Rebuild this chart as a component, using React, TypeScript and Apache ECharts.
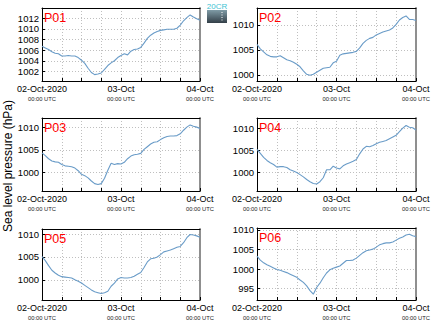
import React, { useEffect, useRef } from 'react';
import * as echarts from 'echarts';

const hours = [0, 1, 2, 3, 4, 5, 6, 7, 8, 9, 10, 11, 12, 13, 14, 15, 16, 17, 18, 19, 20, 21, 22, 23, 24, 25, 26, 27, 28, 29, 30, 31, 32, 33, 34, 35, 36, 37, 38, 39, 40, 41, 42, 43, 44, 45, 46, 47, 48];

const p01 = [1006.7, 1006.4, 1006.1, 1005.7, 1005.4, 1005.3, 1004.9, 1004.9, 1005.0, 1004.9, 1004.9, 1004.6, 1004.1, 1003.5, 1002.6, 1001.8, 1001.4, 1001.5, 1001.7, 1002.4, 1003.1, 1003.6, 1004.0, 1004.6, 1005.0, 1005.3, 1005.1, 1005.8, 1006.1, 1006.2, 1006.5, 1007.3, 1008.2, 1008.8, 1009.2, 1009.5, 1009.7, 1009.8, 1009.9, 1009.9, 1009.9, 1010.1, 1010.7, 1011.5, 1012.1, 1012.6, 1012.2, 1011.9, 1011.6];
const p02 = [1006.1, 1005.2, 1004.6, 1004.0, 1003.7, 1003.6, 1003.6, 1003.8, 1003.4, 1003.0, 1002.8, 1002.5, 1002.1, 1001.6, 1000.8, 1000.1, 999.9, 1000.1, 1000.5, 1000.9, 1001.3, 1001.4, 1001.5, 1002.4, 1002.7, 1003.9, 1004.2, 1004.3, 1004.4, 1004.5, 1004.7, 1005.4, 1006.3, 1006.9, 1007.3, 1007.5, 1008.0, 1008.3, 1008.6, 1008.8, 1009.0, 1009.4, 1010.1, 1011.0, 1011.5, 1011.8, 1011.1, 1011.1, 1010.9];
const p03 = [1004.3, 1003.7, 1003.0, 1002.5, 1002.3, 1002.2, 1001.7, 1001.4, 1001.3, 1001.2, 1000.9, 1000.3, 999.5, 999.2, 998.7, 998.0, 997.4, 997.2, 997.4, 998.6, 1000.4, 1002.0, 1001.7, 1001.9, 1001.8, 1002.2, 1003.0, 1003.6, 1003.9, 1004.0, 1004.2, 1005.1, 1005.7, 1006.3, 1006.7, 1006.8, 1007.3, 1007.7, 1008.0, 1008.1, 1008.1, 1008.2, 1008.6, 1009.4, 1010.1, 1010.6, 1010.3, 1010.1, 1009.8];
const p04 = [1005.2, 1004.3, 1003.4, 1002.7, 1002.2, 1001.8, 1001.2, 1001.3, 1001.3, 1001.1, 1000.6, 1000.3, 1000.0, 999.5, 999.0, 998.4, 997.9, 997.5, 997.4, 997.9, 998.8, 1000.6, 1000.6, 1001.4, 1001.0, 1000.8, 1001.5, 1001.9, 1002.2, 1002.5, 1002.9, 1004.2, 1005.3, 1005.9, 1005.8, 1006.1, 1006.5, 1006.8, 1007.0, 1007.2, 1007.6, 1008.0, 1008.4, 1009.2, 1010.0, 1010.6, 1010.2, 1010.1, 1009.6];
const p05 = [1005.1, 1004.2, 1003.1, 1002.1, 1001.5, 1001.0, 1000.7, 1000.6, 1000.5, 1000.4, 1000.0, 999.7, 999.3, 998.8, 998.3, 997.8, 997.4, 997.2, 997.0, 997.2, 997.5, 998.6, 999.3, 1000.2, 1000.5, 1000.4, 1000.4, 1000.5, 1000.8, 1001.2, 1001.6, 1002.7, 1003.9, 1004.6, 1004.7, 1005.0, 1005.5, 1006.1, 1006.3, 1006.5, 1006.8, 1007.1, 1007.3, 1008.1, 1009.2, 1009.9, 1009.8, 1009.6, 1009.3];
const p06 = [1003.3, 1002.3, 1001.6, 1001.1, 1000.7, 1000.3, 999.9, 999.7, 999.4, 999.1, 998.7, 998.3, 997.9, 997.2, 996.6, 995.7, 994.5, 993.6, 995.3, 996.4, 997.8, 999.0, 999.8, 1000.2, 1000.5, 1000.8, 1001.5, 1002.2, 1002.2, 1002.3, 1002.8, 1003.5, 1004.2, 1004.7, 1004.9, 1005.1, 1005.6, 1006.2, 1006.5, 1006.7, 1006.7, 1006.9, 1007.4, 1007.9, 1008.2, 1008.7, 1008.9, 1008.5, 1008.3];

const panelNames = ['P01', 'P02', 'P03', 'P04', 'P05', 'P06'];
const panelValues = [p01, p02, p03, p04, p05, p06];
const yMins = [1000.2, 998.75, 995.75, 995.8, 995.6, 992.1];
const yMaxs = [1013.9, 1013.4, 1012.15, 1012.3, 1011.1, 1010.5];
const yIntervals = [2, 5, 5, 5, 5, 5];
const xDateLabels = ['02-Oct-2020', '03-Oct', '04-Oct'];
const xTimeLabel = '00:00 UTC';
const yAxisTitle = 'Sea level pressure (hPa)';

const grids = [
  { left: 42, top: 8, width: 158, height: 73 },
  { left: 257, top: 8, width: 159, height: 73 },
  { left: 42, top: 118, width: 158, height: 73 },
  { left: 257, top: 118, width: 159, height: 73 },
  { left: 42, top: 229, width: 158, height: 71 },
  { left: 257, top: 228, width: 159, height: 72 },
];

const FONT = 'Liberation Sans, Arial, Helvetica, sans-serif';
const LINE_COLOR = '#6a9cc8';

export default function App() {
  const ref = useRef<HTMLDivElement>(null);
  useEffect(() => {
    if (!ref.current) return;
    const chart = echarts.init(ref.current, undefined, { renderer: 'svg' });
    const xAxes: any[] = [];
    const yAxes: any[] = [];
    const series: any[] = [];
    const graphics: any[] = [];
    grids.forEach((g, i) => {
      xAxes.push({
        gridIndex: i,
        type: 'value',
        min: 0,
        max: 48,
        interval: 6,
        position: 'bottom',
        axisLine: { show: true, onZero: false, lineStyle: { color: '#000', width: 1 } },
        axisTick: { show: true, inside: true, length: 3, lineStyle: { color: '#000' } },
        axisLabel: {
          show: true,
          interval: 0,
          margin: 3,
          showMinLabel: true,
          showMaxLabel: true,
          formatter: (v: number) => {
            if (v % 24 !== 0) return '';
            return '{a|' + xDateLabels[v / 24] + '}\n{b|' + xTimeLabel + '}';
          },
          rich: {
            a: { fontSize: 9, lineHeight: 10, color: '#000', fontFamily: FONT },
            b: { fontSize: 5.8, lineHeight: 9, color: '#222', fontFamily: FONT },
          },
        },
        splitLine: { show: true, lineStyle: { color: '#bfbfbf', type: [1, 2], width: 1 } },
      });
      xAxes.push({
        gridIndex: i,
        type: 'value',
        min: 0,
        max: 48,
        position: 'top',
        axisLine: { show: true, onZero: false, lineStyle: { color: '#000', width: 1 } },
        axisTick: { show: false },
        axisLabel: { show: false },
        splitLine: { show: false },
      });
      const iv = yIntervals[i];
      yAxes.push({
        gridIndex: i,
        type: 'value',
        min: yMins[i],
        max: yMaxs[i],
        minInterval: iv,
        maxInterval: iv,
        position: 'left',
        axisLine: { show: true, onZero: false, lineStyle: { color: '#000', width: 1 } },
        axisTick: { show: true, inside: true, length: 3, lineStyle: { color: '#000' } },
        axisLabel: {
          show: true,
          margin: 3,
          fontSize: 9.5,
          color: '#000',
          fontFamily: FONT,
          formatter: (v: number) => {
            const r = v / iv;
            return Math.abs(r - Math.round(r)) < 1e-6 ? String(Math.round(v)) : '';
          },
        },
        splitLine: { show: true, lineStyle: { color: '#bfbfbf', type: [1, 2], width: 1 } },
      });
      yAxes.push({
        gridIndex: i,
        type: 'value',
        min: yMins[i],
        max: yMaxs[i],
        position: 'right',
        axisLine: { show: true, onZero: false, lineStyle: { color: '#8f8f8f', width: 2 } },
        axisTick: { show: false },
        axisLabel: { show: false },
        splitLine: { show: false },
      });
      series.push({
        type: 'line',
        xAxisIndex: 2 * i,
        yAxisIndex: 2 * i,
        data: hours.map((h, k) => [h, panelValues[i][k]]),
        showSymbol: false,
        symbol: 'none',
        lineStyle: { color: LINE_COLOR, width: 1.1 },
        itemStyle: { color: LINE_COLOR },
        z: 3,
      });
      graphics.push({
        type: 'text',
        left: g.left + 2,
        top: g.top + 3,
        style: { text: panelNames[i], fill: '#ff0000', fontSize: 12.5, fontFamily: FONT },
        z: 10,
      });
    });

    graphics.push({
      type: 'text',
      x: 8,
      y: 166,
      rotation: Math.PI / 2,
      style: {
        text: yAxisTitle,
        fill: '#000',
        fontSize: 12,
        fontFamily: FONT,
        align: 'center',
        verticalAlign: 'middle',
      },
    });
    // small logo
    graphics.push({
      type: 'rect',
      shape: { x: 207, y: 10, width: 20, height: 13 },
      style: {
        fill: new echarts.graphic.LinearGradient(0, 0, 0, 1, [
          { offset: 0, color: '#7f9ba6' },
          { offset: 1, color: '#333f48' },
        ]),
      },
    });
    graphics.push({
      type: 'line',
      shape: { x1: 222, y1: 12, x2: 222, y2: 21 },
      style: { stroke: '#ffffff', lineWidth: 1, lineDash: [1, 1.5] },
    });
    graphics.push({
      type: 'text',
      x: 217,
      y: 2.5,
      style: { text: '20CR', fill: '#3ec3d3', fontSize: 8, fontFamily: FONT, align: 'center', verticalAlign: 'top' },
    });

    chart.setOption({
      animation: false,
      backgroundColor: '#ffffff',
      grid: grids.map((g) => ({ ...g, containLabel: false })),
      xAxis: xAxes,
      yAxis: yAxes,
      series,
      graphic: graphics,
    });
    return () => chart.dispose();
  }, []);
  return (
    <div
      ref={ref}
      style={{ position: 'fixed', left: 0, top: 0, width: 435, height: 327, background: '#fff' }}
    />
  );
}
